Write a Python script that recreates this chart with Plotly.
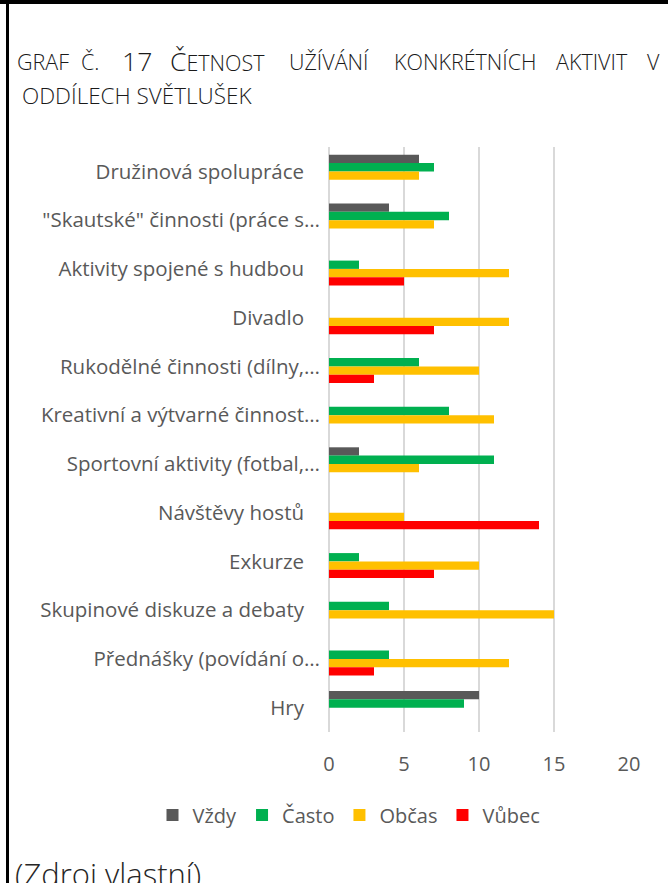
import plotly.graph_objects as go

W, H = 668, 883

categories = [
    "Družinová spolupráce",
    '"Skautské" činnosti (práce s…',
    "Aktivity spojené s hudbou",
    "Divadlo",
    "Rukodělné činnosti (dílny,…",
    "Kreativní a výtvarné činnost…",
    "Sportovní aktivity (fotbal,…",
    "Návštěvy hostů",
    "Exkurze",
    "Skupinové diskuze a debaty",
    "Přednášky (povídání o…",
    "Hry",
]

vzdy = [6, 4, 0, 0, 0, 0, 2, 0, 0, 0, 0, 10]
casto = [7, 8, 2, 0, 6, 8, 11, 0, 2, 4, 4, 9]
obcas = [6, 7, 12, 12, 10, 11, 6, 5, 10, 15, 12, 0]
vubec = [0, 0, 5, 7, 3, 0, 0, 14, 7, 0, 3, 0]

series = [
    ("Vždy", vzdy, "#595959"),
    ("Často", casto, "#00B050"),
    ("Občas", obcas, "#FFC000"),
    ("Vůbec", vubec, "#FF0000"),
]

x_ticks = [0, 5, 10, 15, 20]


def px_x(x):
    return x / W


def px_y(y):
    return 1 - y / H


fig = go.Figure()
for name, vals, color in series:
    fig.add_trace(go.Bar(
        y=categories, x=vals, name=name, orientation="h",
        marker=dict(color=color, line=dict(width=0)),
    ))

# labels that are not cut off carry a trailing space in the source chart
ticktext = [c if c.endswith("…") else c + "\u00a0\u00a0\u00a0" for c in categories]

fig.update_layout(
    width=W, height=H,
    margin=dict(l=0, r=0, t=0, b=0, autoexpand=False),
    plot_bgcolor="white", paper_bgcolor="white",
    barmode="group", bargap=0.32, bargroupgap=0,
    font=dict(family="Open Sans", color="#595959", size=20),
    xaxis=dict(
        domain=[px_x(329), px_x(629)], range=[0, 20],
        tickvals=x_ticks, showgrid=True, gridcolor="#D9D9D9", gridwidth=2,
        zeroline=True, zerolinecolor="#D9D9D9", zerolinewidth=2,
        showline=False, ticks="", ticklabelstandoff=18,
        tickfont=dict(size=20, color="#595959"), fixedrange=True,
    ),
    yaxis=dict(
        domain=[px_y(732), px_y(147)], autorange="reversed",
        tickvals=categories, ticktext=ticktext, ticks="", showgrid=False,
        ticklabelstandoff=8, tickfont=dict(size=20.5, color="#595959"),
        fixedrange=True,
    ),
    legend=dict(
        orientation="h", x=px_x(349), xanchor="center",
        y=px_y(815), yanchor="middle",
        font=dict(size=20, color="#595959"), traceorder="normal",
        itemwidth=30,
    ),
)

# title, justified word by word and drawn in small caps
small, big = 21.5, 26.5
title_words = [
    (43, "GRAF"),
    (90, "Č."),
    (137, f"<span style='font-size:{big}px'>17</span>"),
    (217, f"<span style='font-size:{big}px'>Č</span>ETNOST"),
    (329, "UŽÍVÁNÍ"),
    (465, "KONKRÉTNÍCH"),
    (592, "AKTIVIT"),
    (653, "V"),
]
for x, txt in title_words:
    fig.add_annotation(
        x=px_x(x), y=px_y(61), xref="paper", yref="paper",
        xanchor="center", yanchor="middle", showarrow=False, text=txt,
        font=dict(family="Open Sans", size=small, color="#1a1a1a", weight=300),
    )
fig.add_annotation(
    x=px_x(20), y=px_y(96), xref="paper", yref="paper",
    xanchor="left", yanchor="middle", showarrow=False, text="ODDÍLECH SVĚTLUŠEK",
    font=dict(family="Open Sans", size=22.5, color="#1a1a1a", weight=300),
)

fig.add_annotation(
    x=px_x(13), y=px_y(851), xref="paper", yref="paper",
    xanchor="left", yanchor="top", showarrow=False, text="(Zdroj vlastní)",
    font=dict(family="Open Sans", size=31, color="#262626", weight=300),
)

# page frame
fig.add_shape(type="line", xref="paper", yref="paper",
              x0=0, x1=1, y0=px_y(2), y1=px_y(2),
              line=dict(color="black", width=4))
fig.add_shape(type="line", xref="paper", yref="paper",
              x0=px_x(7.5), x1=px_x(7.5), y0=0, y1=1,
              line=dict(color="black", width=3))

# drop the default body margin so the figure fills the window
fig.write_html(
    "out.html",
    config={"displayModeBar": False},
    post_script="document.body.style.margin='0';",
)
